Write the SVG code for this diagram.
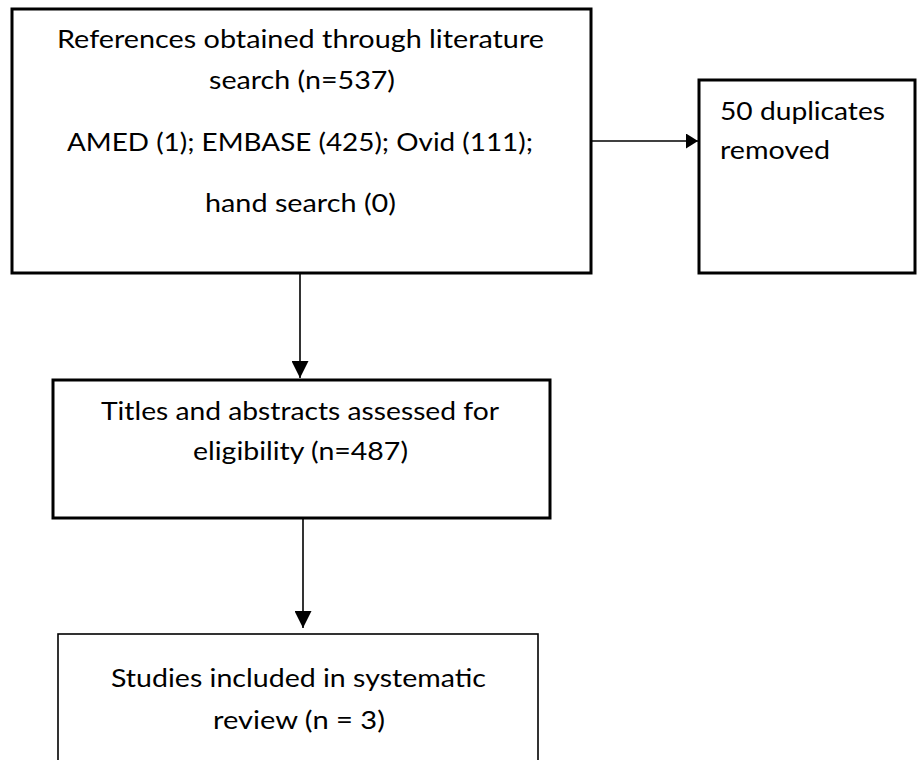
<svg xmlns="http://www.w3.org/2000/svg" width="917" height="760" viewBox="0 0 917 760">
  <defs>
    <style>
      .box { fill: #ffffff; stroke: #000000; stroke-width: 3; }
      .thin { stroke-width: 1.6; }
      .lbl { font-family: Lato, "Open Sans", "Liberation Sans", sans-serif; font-size: 25px; fill: #000000; }
      .mid { text-anchor: middle; }
      .conn { stroke: #000000; stroke-width: 1.6; fill: none; }
    </style>
    <marker id="arrV" markerUnits="userSpaceOnUse" markerWidth="17" markerHeight="17" viewBox="0 0 17 17" refX="17" refY="8.5" orient="auto">
      <path d="M0,0 L17,8.5 L0,17 Z" fill="#000000"/>
    </marker>
    <marker id="arrH" markerUnits="userSpaceOnUse" markerWidth="12" markerHeight="15" viewBox="0 0 12 15" refX="12" refY="7.5" orient="auto">
      <path d="M0,0 L12,7.5 L0,15 Z" fill="#000000"/>
    </marker>
  </defs>
  <rect width="917" height="760" fill="#ffffff"/>

  <g id="connectors">
    <line class="conn" x1="592" y1="141" x2="698" y2="141" marker-end="url(#arrH)"/>
    <line class="conn" x1="300" y1="274" x2="300" y2="378" marker-end="url(#arrV)"/>
    <line class="conn" x1="303" y1="519" x2="303" y2="628" marker-end="url(#arrV)"/>
  </g>

  <g id="search">
    <rect class="box" x="12" y="9" width="579" height="264"/>
    <text class="lbl mid" x="300.5" y="48" textLength="487" lengthAdjust="spacingAndGlyphs">References obtained through literature</text>
    <text class="lbl mid" x="302" y="89" textLength="186" lengthAdjust="spacingAndGlyphs">search (n=537)</text>
    <text class="lbl mid" x="300" y="151" textLength="466" lengthAdjust="spacingAndGlyphs">AMED (1); EMBASE (425); Ovid (111);</text>
    <text class="lbl mid" x="300.5" y="212" textLength="191" lengthAdjust="spacingAndGlyphs">hand search (0)</text>
  </g>

  <g id="duplicates">
    <rect class="box" x="699" y="80" width="216" height="193"/>
    <text class="lbl" x="720" y="120" textLength="165" lengthAdjust="spacingAndGlyphs">50 duplicates</text>
    <text class="lbl" x="720" y="159" textLength="110" lengthAdjust="spacingAndGlyphs">removed</text>
  </g>

  <g id="screening">
    <rect class="box" x="53" y="380" width="497" height="138"/>
    <text class="lbl mid" x="300" y="420" textLength="398" lengthAdjust="spacingAndGlyphs">Titles and abstracts assessed for</text>
    <text class="lbl mid" x="300.5" y="460" textLength="215" lengthAdjust="spacingAndGlyphs">eligibility (n=487)</text>
  </g>

  <g id="included">
    <rect class="box thin" x="58" y="634" width="480" height="140"/>
    <text class="lbl mid" x="298.5" y="687" textLength="375" lengthAdjust="spacingAndGlyphs">Studies included in systematic</text>
    <text class="lbl mid" x="299" y="729" textLength="172" lengthAdjust="spacingAndGlyphs">review (n = 3)</text>
  </g>
</svg>
